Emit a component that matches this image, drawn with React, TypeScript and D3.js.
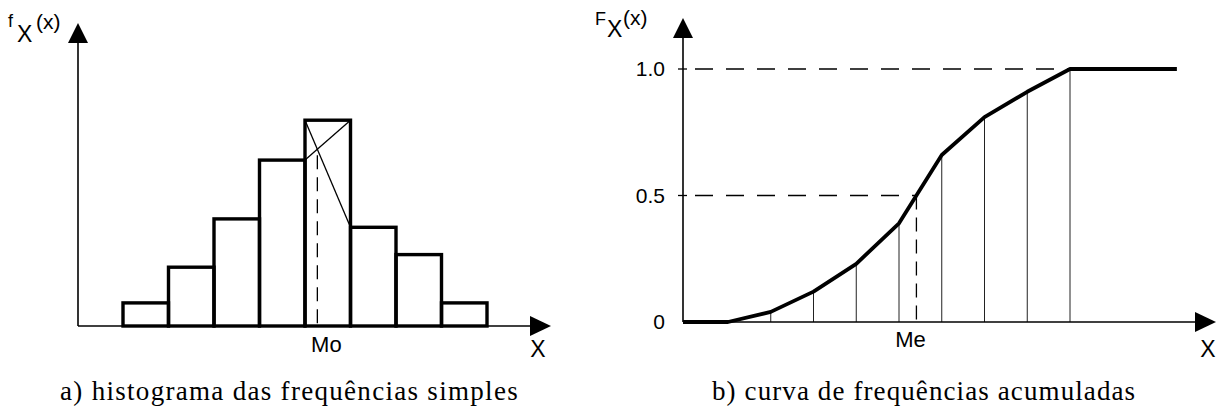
import React from "react";
import * as d3 from "d3";

// ---- data ----
// (a) histogram: relative frequency of each class (8 classes)
const classIndex = [0, 1, 2, 3, 4, 5, 6, 7];
const frequencies = [1.1, 2.8, 5.1, 7.9, 9.8, 4.7, 3.4, 1.1];
const modalClass = 4;
// (b) cumulative frequency curve at class boundaries 0..8
const boundaries = [0, 1, 2, 3, 4, 5, 6, 7, 8];
const cumulative = [0, 0.04, 0.12, 0.23, 0.39, 0.66, 0.81, 0.91, 1.0];
const yTickValues = [0, 0.5, 1.0];
const yTickLabels = ["0", "0.5", "1.0"];
const captionA = "a) histograma das frequências simples";
const captionB = "b) curva de frequências acumuladas";
const modeLabel = "Mo";
const medianLabel = "Me";

const W = 1217;
const H = 411;
const SANS = "'Liberation Sans', Arial, sans-serif";
const SERIF = "'Liberation Serif', 'Times New Roman', serif";

export default function App() {
  // ---------- panel a ----------
  const ax0 = 78; // y-axis x
  const ay0 = 326; // x-axis y
  const xa = d3.scaleLinear().domain([0, 8]).range([123, 487]);
  const ya = d3.scaleLinear().domain([0, 10]).range([ay0, 116]);

  const mL = xa(modalClass);
  const mR = xa(modalClass + 1);
  const yPrev = ya(frequencies[modalClass - 1]);
  const yMode = ya(frequencies[modalClass]);
  const yNext = ya(frequencies[modalClass + 1]);
  // intersection of (mL,yPrev)-(mR,yMode) and (mL,yMode)-(mR,yNext)
  const t = (yPrev - yMode) / ((yPrev - yMode) + (yNext - yMode));
  const modeX = mL + t * (mR - mL);
  const modeY = yPrev + t * (yMode - yPrev);

  // ---------- panel b ----------
  const bx0 = 683;
  const xb = d3.scaleLinear().domain([0, 8]).range([728, 1070]);
  const yb = d3.scaleLinear().domain([0, 1]).range([322, 69]);
  const pts: [number, number][] = [[bx0, yb(0)]];
  boundaries.forEach((b, i) => pts.push([xb(b), yb(cumulative[i])]));
  pts.push([xb(10.5), yb(1)]);
  const line = d3.line();

  // median by linear interpolation
  let medX = xb(0);
  for (let i = 1; i < cumulative.length; i++) {
    if (cumulative[i] >= 0.5 && cumulative[i - 1] < 0.5) {
      const f = (0.5 - cumulative[i - 1]) / (cumulative[i] - cumulative[i - 1]);
      medX = xb(boundaries[i - 1] + f * (boundaries[i] - boundaries[i - 1]));
    }
  }

  return (
    <svg
      width={W}
      height={H}
      style={{ position: "absolute", left: 0, top: 0, background: "#fff" }}
    >
      {/* ===== panel a ===== */}
      <g>
        {/* axes */}
        <line x1={ax0} y1={ay0} x2={ax0} y2={40} stroke="#000" strokeWidth={1.6} />
        <path d={`M${ax0},23 L${ax0 - 10},43 L${ax0 + 10},43 Z`} fill="#000" />
        <line x1={ax0} y1={ay0} x2={532} y2={ay0} stroke="#000" strokeWidth={1.6} />
        <path d={`M551,${ay0} L530,${ay0 - 10} L530,${ay0 + 10} Z`} fill="#000" />
        {/* bars */}
        {classIndex.map((c, i) => (
          <rect
            key={c}
            x={xa(c)}
            y={ya(frequencies[i])}
            width={xa(c + 1) - xa(c)}
            height={ay0 - ya(frequencies[i])}
            fill="none"
            stroke="#000"
            strokeWidth={3.4}
          />
        ))}
        {/* mode construction */}
        <line x1={mL} y1={yPrev} x2={mR} y2={yMode} stroke="#000" strokeWidth={1.3} />
        <line x1={mL} y1={yMode} x2={mR} y2={yNext} stroke="#000" strokeWidth={1.3} />
        <line
          x1={modeX}
          y1={modeY}
          x2={modeX}
          y2={ay0}
          stroke="#000"
          strokeWidth={1.3}
          strokeDasharray="14 8"
          strokeDashoffset={-6}
        />
        <text x={modeX + 9} y={352} fontFamily={SANS} fontSize={22} textAnchor="middle">
          {modeLabel}
        </text>
        <text x={538} y={357} fontFamily={SANS} fontSize={23} textAnchor="middle">X</text>
        {/* y label */}
        <text x={8} y={27} fontFamily={SANS} fontSize={18}>f</text>
        <text x={17} y={42} fontFamily={SANS} fontSize={23}>X</text>
        <text x={36} y={29} fontFamily={SANS} fontSize={21}>(x)</text>
        <text x={60} y={400} fontFamily={SERIF} fontSize={27} letterSpacing={1.3}>{captionA}</text>
      </g>

      {/* ===== panel b ===== */}
      <g>
        {/* dashed reference lines */}
        <line x1={bx0} y1={yb(1)} x2={xb(8)} y2={yb(1)} stroke="#000" strokeWidth={1.3} strokeDasharray="18 13" strokeDashoffset={-12} />
        <line x1={bx0} y1={yb(0.5)} x2={medX} y2={yb(0.5)} stroke="#000" strokeWidth={1.3} strokeDasharray="18 13" strokeDashoffset={-12} />
        <line x1={medX} y1={yb(0.5)} x2={medX} y2={yb(0)} stroke="#000" strokeWidth={1.3} strokeDasharray="14 8" />
        {/* vertical drop lines */}
        {boundaries.slice(1).map((b, i) => (
          <line
            key={b}
            x1={xb(b)}
            y1={yb(cumulative[i + 1])}
            x2={xb(b)}
            y2={yb(0)}
            stroke="#222"
            strokeWidth={1}
          />
        ))}
        {/* axes */}
        <line x1={bx0} y1={yb(0)} x2={bx0} y2={35} stroke="#000" strokeWidth={1.6} />
        <path d={`M${bx0},18 L${bx0 - 10},38 L${bx0 + 10},38 Z`} fill="#000" />
        <line x1={bx0} y1={yb(0)} x2={1197} y2={yb(0)} stroke="#000" strokeWidth={1.6} />
        <path d={`M1216,${yb(0)} L1195,${yb(0) - 10} L1195,${yb(0) + 10} Z`} fill="#000" />
        {/* ticks + labels */}
        {yTickValues.map((v, i) => (
          <g key={v}>
            {v > 0 && (
              <line x1={bx0 - 5} y1={yb(v)} x2={bx0 + 4} y2={yb(v)} stroke="#000" strokeWidth={1.3} />
            )}
            <text
              x={665}
              y={yb(v) + 7}
              fontFamily={SANS}
              fontSize={21}
              textAnchor="end"
            >
              {yTickLabels[i]}
            </text>
          </g>
        ))}
        {/* cumulative curve */}
        <path d={line(pts) || ""} fill="none" stroke="#000" strokeWidth={3.8} strokeLinejoin="round" />
        <text x={medX - 6} y={347} fontFamily={SANS} fontSize={22} textAnchor="middle">
          {medianLabel}
        </text>
        <text x={1208} y={357} fontFamily={SANS} fontSize={23} textAnchor="middle">X</text>
        {/* y label */}
        <text x={595} y={25} fontFamily={SANS} fontSize={18}>F</text>
        <text x={607} y={37} fontFamily={SANS} fontSize={23}>X</text>
        <text x={623} y={25} fontFamily={SANS} fontSize={21}>(x)</text>
        <text x={712} y={400} fontFamily={SERIF} fontSize={27} letterSpacing={1.1}>{captionB}</text>
      </g>
    </svg>
  );
}
